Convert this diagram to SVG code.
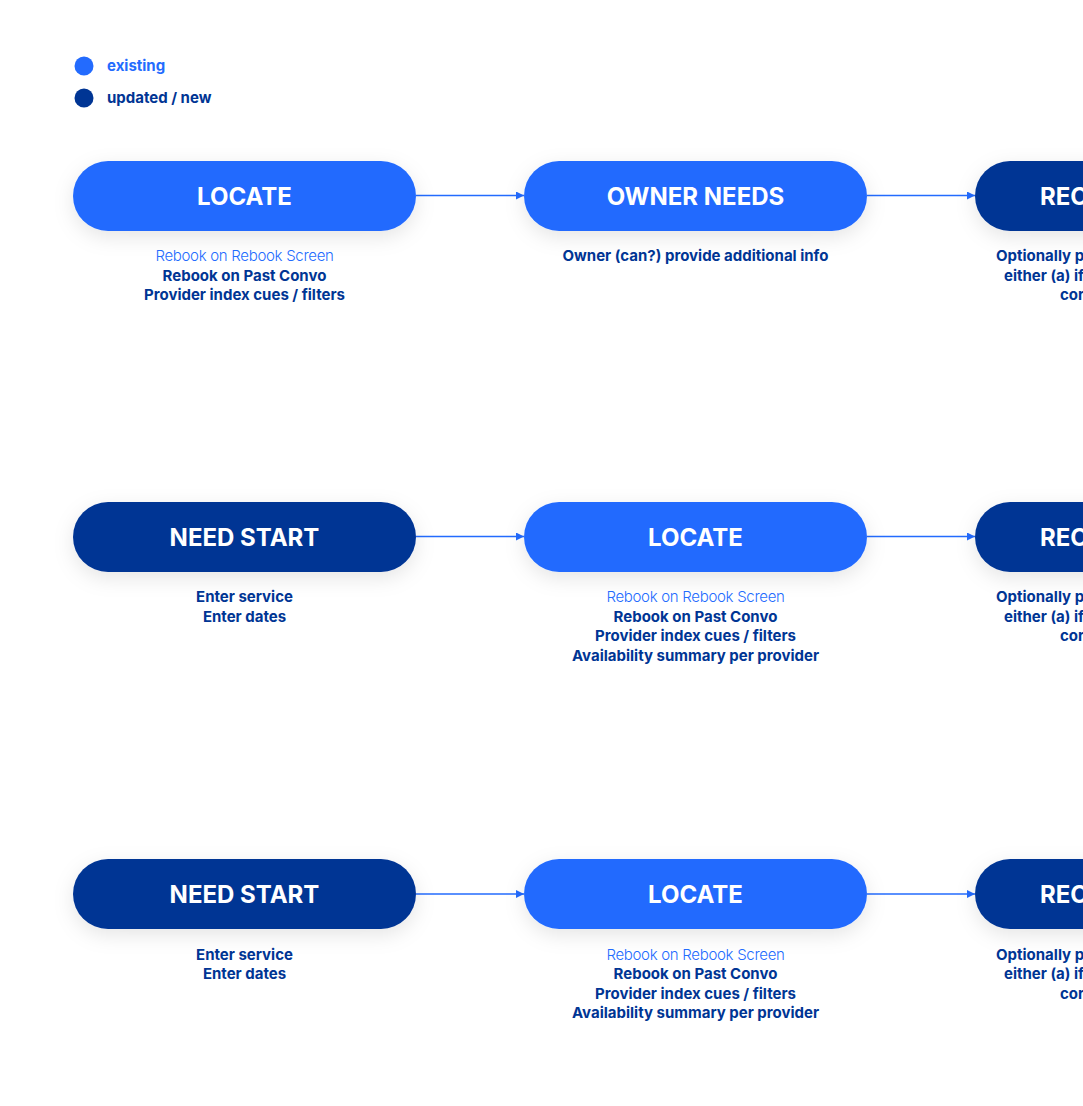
<svg xmlns="http://www.w3.org/2000/svg" width="1083" height="1106" viewBox="0 0 1083 1106">
  <style>
    .title { font-family: Inter, "Liberation Sans", sans-serif; font-weight: 700; font-size: 24px; fill: #ffffff; text-anchor: middle; }
    .titleL { font-family: Inter, "Liberation Sans", sans-serif; font-weight: 700; font-size: 24px; fill: #ffffff; }
    .sub { font-family: Inter, "Liberation Sans", sans-serif; font-size: 15px; text-anchor: middle; }
    .subL { font-family: Inter, "Liberation Sans", sans-serif; font-size: 15px; font-weight: 700; fill: #003594; }
    .ex { fill: #236BFE; font-weight: 300; letter-spacing: -0.3px; }
    .nw { fill: #003594; font-weight: 700; }
    .pillEx { fill: #236BFE; filter: url(#sh); }
    .pillNw { fill: #003594; filter: url(#sh); }
    .leg { font-family: Inter, "Liberation Sans", sans-serif; font-size: 15px; font-weight: 700; }
    .conn { stroke: #236BFE; stroke-width: 1.5; fill: none; marker-end: url(#ah); }
  </style>
  <defs>
    <filter id="sh" x="-20%" y="-60%" width="140%" height="220%">
      <feDropShadow dx="0" dy="6" stdDeviation="10" flood-color="#000000" flood-opacity="0.10"/>
    </filter>
    <marker id="ah" markerWidth="10" markerHeight="10" refX="8" refY="4" orient="auto" markerUnits="userSpaceOnUse">
      <path d="M0,0 L8,4 L0,8 Z" fill="#236BFE"/>
    </marker>
  </defs>
  <rect width="1083" height="1106" fill="#ffffff"/>

  <g id="legend">
    <circle cx="84" cy="66" r="9.5" fill="#236BFE"/>
    <text class="leg" x="107" y="71" fill="#236BFE">existing</text>
    <circle cx="84" cy="98" r="9.5" fill="#003594"/>
    <text class="leg" x="107" y="103" fill="#003594">updated / new</text>
  </g>

  <g id="connectors">
    <line class="conn" x1="416" y1="195.5" x2="524" y2="195.5"/>
    <line class="conn" x1="867" y1="195.5" x2="975" y2="195.5"/>
    <line class="conn" x1="416" y1="536.5" x2="524" y2="536.5"/>
    <line class="conn" x1="867" y1="536.5" x2="975" y2="536.5"/>
    <line class="conn" x1="416" y1="894" x2="524" y2="894"/>
    <line class="conn" x1="867" y1="894" x2="975" y2="894"/>
  </g>

  <!-- Row 1 -->
  <g id="r1-locate">
    <rect class="pillEx" x="73" y="161" width="343" height="70" rx="35"/>
    <text class="title" x="244.5" y="204.5">LOCATE</text>
    <text class="sub ex" x="244.5" y="261">Rebook on Rebook Screen</text>
    <text class="sub nw" x="244.5" y="280.5">Rebook on Past Convo</text>
    <text class="sub nw" x="244.5" y="300">Provider index cues / filters</text>
  </g>
  <g id="r1-owner-needs">
    <rect class="pillEx" x="524" y="161" width="343" height="70" rx="35"/>
    <text class="title" x="695.5" y="204.5">OWNER NEEDS</text>
    <text class="sub nw" x="695.5" y="261">Owner (can?) provide additional info</text>
  </g>
  <g id="r1-rec">
    <rect class="pillNw" x="975" y="161" width="343" height="70" rx="35"/>
    <text class="titleL" x="1040" y="204.5">REC</text>
    <text class="subL" x="996" y="261">Optionally p</text>
    <text class="subL" x="1004" y="280.5">either (a) if</text>
    <text class="subL" x="1060" y="300">cor</text>
  </g>

  <!-- Row 2 -->
  <g id="r2-need-start">
    <rect class="pillNw" x="73" y="502" width="343" height="70" rx="35"/>
    <text class="title" x="244.5" y="545.5">NEED START</text>
    <text class="sub nw" x="244.5" y="602">Enter service</text>
    <text class="sub nw" x="244.5" y="621.5">Enter dates</text>
  </g>
  <g id="r2-locate">
    <rect class="pillEx" x="524" y="502" width="343" height="70" rx="35"/>
    <text class="title" x="695.5" y="545.5">LOCATE</text>
    <text class="sub ex" x="695.5" y="602">Rebook on Rebook Screen</text>
    <text class="sub nw" x="695.5" y="621.5">Rebook on Past Convo</text>
    <text class="sub nw" x="695.5" y="641">Provider index cues / filters</text>
    <text class="sub nw" x="695.5" y="660.5">Availability summary per provider</text>
  </g>
  <g id="r2-rec">
    <rect class="pillNw" x="975" y="502" width="343" height="70" rx="35"/>
    <text class="titleL" x="1040" y="545.5">REC</text>
    <text class="subL" x="996" y="602">Optionally p</text>
    <text class="subL" x="1004" y="621.5">either (a) if</text>
    <text class="subL" x="1060" y="641">cor</text>
  </g>

  <!-- Row 3 -->
  <g id="r3-need-start">
    <rect class="pillNw" x="73" y="859" width="343" height="70" rx="35"/>
    <text class="title" x="244.5" y="902.5">NEED START</text>
    <text class="sub nw" x="244.5" y="959.5">Enter service</text>
    <text class="sub nw" x="244.5" y="979">Enter dates</text>
  </g>
  <g id="r3-locate">
    <rect class="pillEx" x="524" y="859" width="343" height="70" rx="35"/>
    <text class="title" x="695.5" y="902.5">LOCATE</text>
    <text class="sub ex" x="695.5" y="959.5">Rebook on Rebook Screen</text>
    <text class="sub nw" x="695.5" y="979">Rebook on Past Convo</text>
    <text class="sub nw" x="695.5" y="998.5">Provider index cues / filters</text>
    <text class="sub nw" x="695.5" y="1018">Availability summary per provider</text>
  </g>
  <g id="r3-rec">
    <rect class="pillNw" x="975" y="859" width="343" height="70" rx="35"/>
    <text class="titleL" x="1040" y="902.5">REC</text>
    <text class="subL" x="996" y="959.5">Optionally p</text>
    <text class="subL" x="1004" y="979">either (a) if</text>
    <text class="subL" x="1060" y="998.5">cor</text>
  </g>
</svg>
